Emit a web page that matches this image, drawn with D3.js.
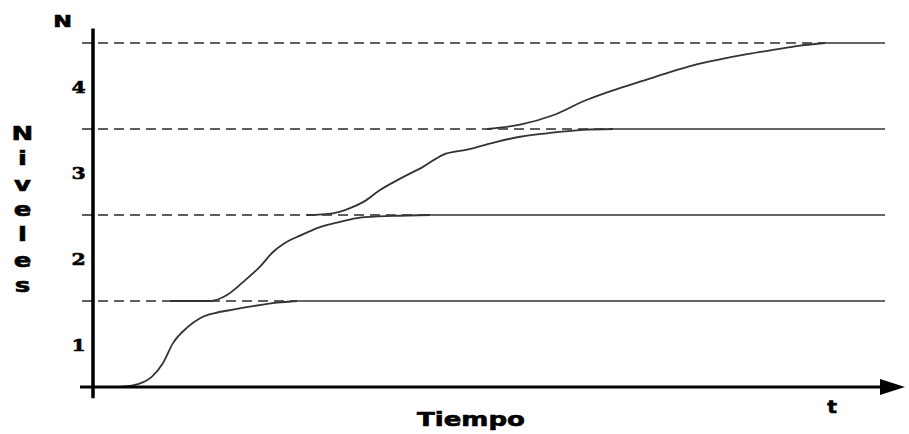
<!DOCTYPE html>
<html><head><meta charset="utf-8">
<script src="https://cdn.jsdelivr.net/npm/d3@7"></script>
<style>html,body{margin:0;padding:0;background:#fff;}svg{display:block;}</style>
</head><body>
<script>
// ---- data (t = time units, N = level) ----
const levels = [1, 2, 3, 4];
const levelLabels = ["1", "2", "3", "4"];
const levelReachT = [204, 337, 520, 732]; // time where each curve reaches its level
const curve1 = [[22,0],[40,0.02],[59,0.12],[70,0.28],[80,0.51],[94,0.69],[107,0.80],[122,0.86],[140,0.90],[160,0.94],[184,0.98],[204,1.0]];
const curve2 = [[77,1.0],[117,1.0],[134,1.07],[150,1.22],[167,1.40],[180,1.57],[190,1.66],[207,1.76],[227,1.86],[247,1.92],[267,1.97],[300,1.99],[337,2.0]];
const curve3 = [[214,2.0],[240,2.02],[257,2.08],[270,2.15],[287,2.29],[310,2.44],[330,2.56],[350,2.70],[374,2.76],[400,2.84],[427,2.91],[454,2.95],[490,2.99],[520,3.0]];
const curve4 = [[394,3.0],[427,3.05],[460,3.16],[494,3.34],[520,3.45],[547,3.55],[574,3.65],[600,3.74],[627,3.81],[654,3.87],[680,3.92],[707,3.97],[732,4.0]];
const curves = [curve1, curve2, curve3, curve4];
const tEnd = 792;
const yTitle = "Niveles";
const xTitle = "Tiempo";

const W = 909, H = 434;
const svg = d3.select("body").append("svg").attr("width", W).attr("height", H);
const x = d3.scaleLinear().domain([0, 800]).range([93, 893]);
const y = d3.scaleLinear().domain([0, 4]).range([387, 43]);

// level lines: dashed up to reach point, solid afterwards
levels.forEach((lv, i) => {
  svg.append("line").attr("x1", x(-11)).attr("x2", x(levelReachT[i]))
    .attr("y1", y(lv)).attr("y2", y(lv))
    .attr("stroke", "#5f5f5f").attr("stroke-width", 2.2).attr("stroke-dasharray", "10,6");
  svg.append("line").attr("x1", x(levelReachT[i])).attr("x2", x(tEnd))
    .attr("y1", y(lv)).attr("y2", y(lv))
    .attr("stroke", "#666").attr("stroke-width", 2);
});

// curves
const line = d3.line().x(d => x(d[0])).y(d => y(d[1])).curve(d3.curveMonotoneX);
curves.forEach(c => {
  svg.append("path").attr("d", line(c)).attr("fill", "none")
    .attr("stroke", "#333").attr("stroke-width", 1.8);
});

// axes
svg.append("line").attr("x1", x(0)).attr("x2", x(0)).attr("y1", y(4.17)).attr("y2", y(-0.13))
  .attr("stroke", "#000").attr("stroke-width", 3.5);
svg.append("line").attr("x1", x(-13)).attr("x2", x(790)).attr("y1", y(0)).attr("y2", y(0))
  .attr("stroke", "#000").attr("stroke-width", 3);
svg.append("path").attr("d", `M${x(787)},${y(0)-8} L${x(812)},${y(0)} L${x(787)},${y(0)+8} Z`)
  .attr("fill", "#000");

const font = "'DejaVu Sans', Verdana, sans-serif";
function stretched(txt, cx, baseline, size, sx, fam) {
  const g = svg.append("g").attr("transform", `translate(${cx},${baseline}) scale(${sx},1)`);
  return g.append("text").attr("x", 0).attr("y", 0).text(txt)
    .attr("font-family", fam || font).attr("font-weight", "bold").attr("font-size", size)
    .attr("text-anchor", "middle").attr("fill", "#000")
    .attr("stroke", "#000").attr("stroke-width", 0.6);
}

// level labels at midpoints between levels
levels.forEach((lv, i) => {
  stretched(levelLabels[i], 78.5, y(lv - 0.5) + 6.5, 17, 1.2, "'DejaVu Serif', serif");
});

stretched("N", 62.5, 27, 16, 1.4);
stretched("t", 832, 413, 17, 1.2);
stretched(xTitle, 471, 426, 19, 1.37);
yTitle.split("").forEach((ch, i) => {
  stretched(ch, 22.5, 140 + i * 25.3, 20, 1.3);
});
</script>
</body></html>
